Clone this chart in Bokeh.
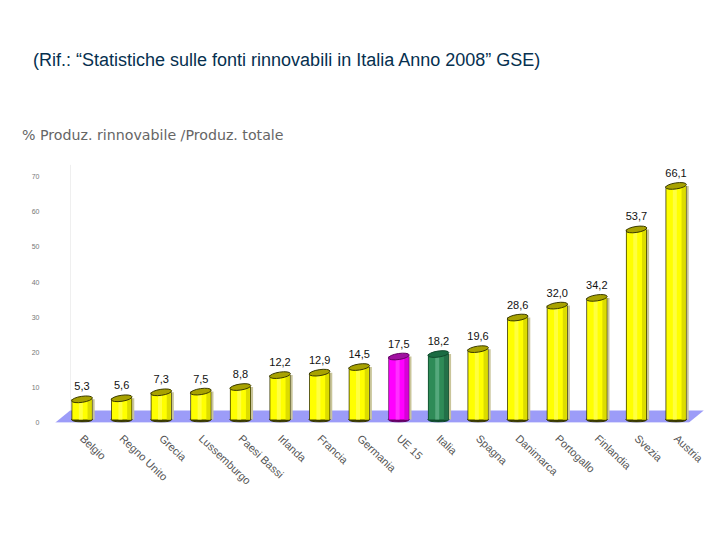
from bokeh.plotting import figure
from bokeh.models import Label, Range1d, FixedTicker, LinearAxis, ColumnDataSource
from bokeh.core.properties import value
from bokeh.embed import file_html
from bokeh.resources import INLINE

countries = ["Belgio", "Regno Unito", "Grecia", "Lussemburgo", "Paesi Bassi", "Irlanda", "Francia", "Germania",
             "UE 15", "Italia", "Spagna", "Danimarca", "Portogallo", "Finlandia", "Svezia", "Austria"]
values = [5.3, 5.6, 7.3, 7.5, 8.8, 12.2, 12.9, 14.5, 17.5, 18.2, 19.6, 28.6, 32.0, 34.2, 53.7, 66.1]
value_labels = ["5,3", "5,6", "7,3", "7,5", "8,8", "12,2", "12,9", "14,5", "17,5", "18,2", "19,6", "28,6", "32,0", "34,2", "53,7", "66,1"]
body_colors = ["#ffff00"] * 8 + ["#ff00ff", "#2e8b57"] + ["#ffff00"] * 6
edge_colors = ["#3a3a00"] * 8 + ["#660066", "#0f4a2c"] + ["#3a3a00"] * 6
cap_colors = ["#a8a200"] * 8 + ["#a010a0", "#1a6b42"] + ["#a8a200"] * 6
side_colors = ["#dcdc00"] * 8 + ["#d800d8", "#237048"] + ["#dcdc00"] * 6
light_colors = ["#ffff40"] * 8 + ["#ff30ff", "#55a87c"] + ["#ffff40"] * 6
y_ticks = [0, 10, 20, 30, 40, 50, 60, 70]

BASE = 0.85
TOP = 1.3
xs = list(range(len(countries)))
src = ColumnDataSource(dict(
    x=xs,
    base=[BASE] * len(xs),
    top=[v + TOP for v in values],
    lab=value_labels,
    body=body_colors,
    edge=edge_colors,
    cap=cap_colors,
    side=side_colors,
    light=light_colors,
    shadow_x=[x + 0.055 for x in xs],
    side_x=[x + 0.19 for x in xs],
    light_x=[x - 0.03 for x in xs],
))

p = figure(frame_width=699, frame_height=413, output_backend="svg", toolbar_location=None,
           x_range=Range1d(-1.755, 15.896), y_range=Range1d(0, 117.66),
           x_axis_type=None, y_axis_type=None,
           min_border_left=12, min_border_right=0, min_border_top=9, min_border_bottom=90,
           outline_line_color=None)
p.grid.visible = False

yaxis = LinearAxis(ticker=FixedTicker(ticks=y_ticks), axis_line_color=None,
                   major_tick_line_color=None, minor_tick_line_color=None,
                   major_label_text_font_size="7px", major_label_text_color="#777777",
                   major_label_text_font="Liberation Sans", major_label_standoff=-33)
p.add_layout(yaxis, "left")

xaxis = LinearAxis(ticker=FixedTicker(ticks=xs), axis_line_color=None,
                   major_tick_line_color=None, minor_tick_line_color=None,
                   major_label_overrides={i: c for i, c in enumerate(countries)},
                   major_label_orientation=-0.76,
                   major_label_text_font_size="11px", major_label_text_color="#555555",
                   major_label_text_font="Liberation Sans", major_label_standoff=8)
p.add_layout(xaxis, "below")

p.segment(x0=[-0.29], y0=[0], x1=[-0.29], y1=[73.4], line_color="#efefef", line_width=1)

p.patch(x=[-0.68, -0.30, 15.70, 15.32], y=[-0.1, 3.4, 3.4, -0.1], fill_color="#9c9cf8", line_color=None)

p.vbar(x="shadow_x", width=0.53, bottom="base", top="top", source=src, fill_color="#c9c59a", line_color=None)
p.ellipse(x="x", y="base", width=21, height=5, width_units="screen", height_units="screen",
          source=src, fill_color="edge", line_color="edge")
p.vbar(x="x", width=0.53, bottom="base", top="top", source=src, fill_color="edge", line_color=None)
p.vbar(x="x", width=0.49, bottom="base", top="top", source=src, fill_color="body", line_color=None)
p.vbar(x="side_x", width=0.10, bottom="base", top="top", source=src, fill_color="side", line_color=None)
p.vbar(x="light_x", width=0.10, bottom="base", top="top", source=src, fill_color="light", line_color=None)
p.ellipse(x="x", y="top", width=21, height=6, angle=0.15, width_units="screen", height_units="screen",
          source=src, fill_color="cap", line_color="edge", line_width=1)

p.text(x="x", y="top", text="lab", source=src, text_align="center", text_baseline="bottom",
       text_font=value("Liberation Sans"), text_font_size="11px", text_color="#111111", y_offset=-9)

p.add_layout(Label(x=-1.237, y=103.2,
                   text="(Rif.: “Statistiche sulle fonti rinnovabili in Italia Anno 2008” GSE)",
                   text_font="Liberation Sans", text_font_size="18px", text_color="#06304f",
                   text_baseline="alphabetic"))
p.add_layout(Label(x=-1.515, y=81.8,
                   text="% Produz. rinnovabile /Produz. totale",
                   text_font="DejaVu Sans", text_font_size="14.2px", text_color="#666666",
                   text_baseline="alphabetic"))

open("out.html", "w").write(file_html(p, INLINE))
